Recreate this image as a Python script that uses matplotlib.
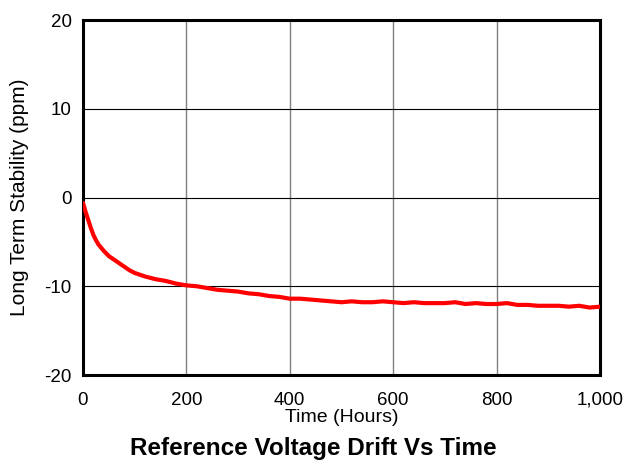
import matplotlib
matplotlib.use("Agg")
import matplotlib.pyplot as plt
from matplotlib.ticker import FuncFormatter

plt.rcParams["font.family"] = ["Liberation Sans", "DejaVu Sans"]
plt.rcParams["axes.unicode_minus"] = False

hours = [0, 5, 10, 15, 20, 25, 30, 40, 50, 60, 75, 90, 100,
         120, 140, 160, 180, 200, 220, 240, 260, 280, 300, 320, 340, 360, 380,
         400, 420, 440, 460, 480, 500, 520, 540, 560, 580, 600, 620, 640, 660,
         680, 700, 720, 740, 760, 780, 800, 820, 840, 860, 880, 900, 920, 940,
         960, 980, 1000]
drift_ppm = [-0.6, -1.6, -2.5, -3.4, -4.2, -4.8, -5.3, -6.0, -6.6, -7.0, -7.6, -8.2, -8.5,
             -8.9, -9.2, -9.4, -9.7, -9.9, -10.0, -10.2, -10.4, -10.5, -10.6, -10.8, -10.9,
             -11.1, -11.2, -11.4, -11.4, -11.5, -11.6, -11.7, -11.8, -11.7, -11.8, -11.8,
             -11.7, -11.8, -11.9, -11.8, -11.9, -11.9, -11.9, -11.8, -12.0, -11.9, -12.0,
             -12.0, -11.9, -12.1, -12.1, -12.2, -12.2, -12.2, -12.3, -12.2, -12.4, -12.3]

x_ticks = [0, 200, 400, 600, 800, 1000]
y_ticks = [-20, -10, 0, 10, 20]

fig = plt.figure(figsize=(6.23, 4.62), dpi=100)
ax = fig.add_axes([0.1332, 0.1883, 0.8298, 0.7684])

for xv in x_ticks[1:-1]:
    ax.axvline(xv, color="#808080", linewidth=1.0, zorder=1)
for yv in y_ticks[1:-1]:
    ax.axhline(yv, color="black", linewidth=0.8, zorder=1)

ax.plot(hours, drift_ppm, color="#ff0000", linewidth=3.0, zorder=3, solid_capstyle="round")

ax.set_xlim(0, 1000)
ax.set_ylim(-20, 20)
ax.set_xticks(x_ticks)
ax.set_yticks(y_ticks)
ax.xaxis.set_major_formatter(FuncFormatter(lambda v, p: f"{int(v):,}"))
ax.tick_params(axis="x", length=0, labelsize=13.5, pad=12)
ax.tick_params(axis="y", length=0, labelsize=13.5, pad=8)
for s in ax.spines.values():
    s.set_linewidth(2.2)

ax.set_xlabel("Time (Hours)", fontsize=14, labelpad=0)
ax.set_ylabel("Long Term Stability (ppm)", fontsize=15, labelpad=11)

fig.text(0.503, 0.03, "Reference Voltage Drift Vs Time", ha="center", va="center",
         fontsize=17.5, fontweight="bold")

fig.savefig("out.png", dpi=100)
